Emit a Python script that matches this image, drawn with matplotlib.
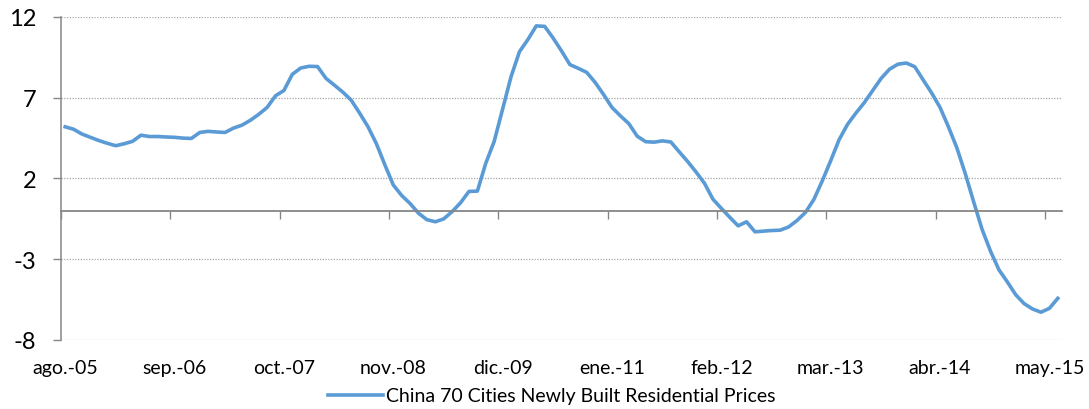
import numpy as np
import matplotlib
matplotlib.use("Agg")
import matplotlib.pyplot as plt

plt.rcParams['font.family'] = ['Lato', 'DejaVu Sans']
plt.rcParams['axes.unicode_minus'] = False

# Year-on-year change, monthly, Aug 2005 .. Jun 2015
values = [
    5.2, 5.05, 4.75, 4.55, 4.35, 4.18, 4.03, 4.15, 4.3, 4.68,
    4.6, 4.6, 4.57, 4.55, 4.5, 4.48, 4.85, 4.92, 4.88, 4.85,
    5.12, 5.3, 5.6, 5.97, 6.4, 7.12, 7.45, 8.45, 8.84, 8.95,
    8.93, 8.2, 7.78, 7.35, 6.85, 6.05, 5.2, 4.15, 2.85, 1.6,
    0.95, 0.45, -0.15, -0.55, -0.68, -0.5, -0.05, 0.5, 1.2, 1.22,
    2.95, 4.3, 6.3, 8.3, 9.85, 10.6, 11.45, 11.42, 10.7, 9.9,
    9.05, 8.82, 8.57, 7.95, 7.2, 6.4, 5.88, 5.4, 4.62, 4.28,
    4.25, 4.33, 4.26, 3.65, 3.05, 2.4, 1.7, 0.72, 0.15, -0.4,
    -0.93, -0.68, -1.3, -1.26, -1.22, -1.2, -1.0, -0.6, -0.1, 0.7,
    1.85, 3.1, 4.4, 5.35, 6.05, 6.7, 7.45, 8.2, 8.77, 9.08,
    9.15, 8.92, 8.1, 7.3, 6.4, 5.2, 3.9, 2.3, 0.55, -1.15,
    -2.5, -3.65, -4.4, -5.2, -5.75, -6.08, -6.28, -6.04, -5.42,
]
tick_labels = ['ago.-05', 'sep.-06', 'oct.-07', 'nov.-08', 'dic.-09',
               'ene.-11', 'feb.-12', 'mar.-13', 'abr.-14', 'may.-15']
label_step = 13
y_ticks = [-8, -3, 2, 7, 12]
series_name = 'China 70 Cities Newly Built Residential Prices'

axis_grey = '#868686'
line_blue = '#5B9BD5'

fig = plt.figure(figsize=(10.89, 4.10), dpi=100)
ax = fig.add_axes([61 / 1089, 1 - 341 / 410, 1001 / 1089, 323 / 410])

x = np.arange(len(values))
line, = ax.plot(x, values, color=line_blue, lw=2.6, solid_joinstyle='round',
                label=series_name)

ax.set_xlim(-0.5, len(values) - 0.5)
ax.set_ylim(y_ticks[0], y_ticks[-1])

# y axis: dotted grid, grey spine with outward ticks
ax.set_yticks(y_ticks)
ax.yaxis.grid(True, color='#a6a6a6', linestyle=(0, (1, 1.2)), lw=0.9)
ax.set_axisbelow(True)
ax.tick_params(axis='y', length=6, width=1, color=axis_grey, labelsize=17,
               pad=12)
for s in ['top', 'right']:
    ax.spines[s].set_visible(False)
ax.spines['left'].set_color(axis_grey)
ax.spines['left'].set_linewidth(1.1)

# category axis crosses at zero, ticks between categories
ax.spines['bottom'].set_position(('data', 0))
ax.spines['bottom'].set_color(axis_grey)
ax.spines['bottom'].set_linewidth(1.3)
label_pos = np.arange(0, len(values), label_step)
ax.set_xticks(label_pos - 0.5)
ax.tick_params(axis='x', length=6, width=1, color=axis_grey, labelbottom=False)

# month labels along the bottom edge
sec = ax.secondary_xaxis('bottom')
sec.set_xticks(label_pos, tick_labels)
sec.spines['bottom'].set_visible(False)
sec.tick_params(length=0, labelsize=14, pad=14)

fig.legend(handles=[line], loc='center', bbox_to_anchor=(552 / 1089, 1 - 397 / 410),
           frameon=False, fontsize=14, handlelength=2.8, handletextpad=0.2)

fig.savefig('out.png', dpi=100)
